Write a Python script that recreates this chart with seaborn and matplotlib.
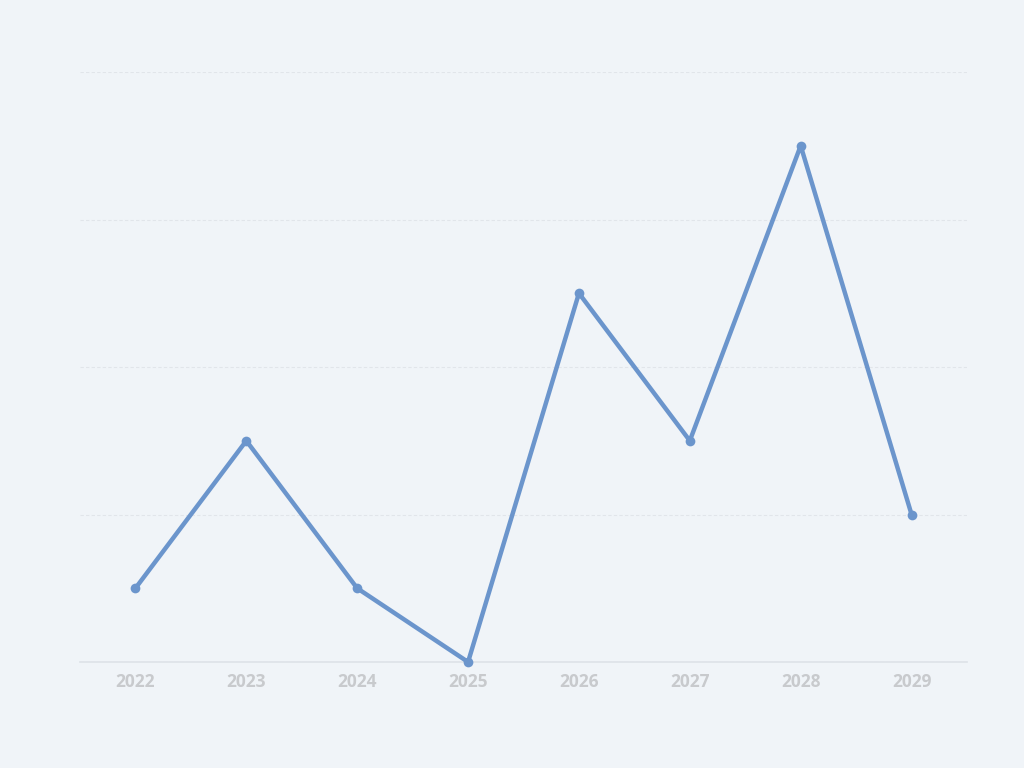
import matplotlib
matplotlib.use("Agg")
import matplotlib.pyplot as plt
import seaborn as sns
import pandas as pd

# ── Data ────────────────────────────────────────────────
years = ["2022", "2023", "2024", "2025", "2026", "2027", "2028", "2029"]
values = [10, 30, 10, 0, 50, 30, 70, 20]
y_ticks = [0, 20, 40, 60, 80]

BG = "#f0f4f8"
LINE = "#6b95cc"

sns.set_theme(style="white")
plt.rcParams["font.family"] = ["Open Sans", "DejaVu Sans"]

df = pd.DataFrame({"year": years, "value": values})

fig, ax = plt.subplots(figsize=(10.24, 7.68), dpi=100)
fig.patch.set_facecolor(BG)
ax.set_facecolor(BG)

sns.lineplot(data=df, x="year", y="value", ax=ax, color=LINE, linewidth=3.2,
             marker="o", markersize=7, markeredgewidth=0, sort=False,
             clip_on=False, zorder=5)

ax.set_xlim(-0.5, len(years) - 0.5)
ax.set_ylim(y_ticks[0], y_ticks[-1])
ax.set_yticks(y_ticks)
ax.set_yticklabels([])
ax.yaxis.grid(True, color="#e1e5ea", linestyle=(0, (3, 2)), linewidth=0.8)
ax.xaxis.grid(False)
ax.set_axisbelow(True)

for side in ["top", "right", "left"]:
    ax.spines[side].set_visible(False)
ax.spines["bottom"].set_color("#dde2e8")
ax.spines["bottom"].set_linewidth(1.2)
ax.spines["bottom"].set_zorder(1)

ax.tick_params(axis="both", length=0)
ax.tick_params(axis="x", pad=8, labelsize=12.5, labelcolor="#c8cacd")
for lbl in ax.get_xticklabels():
    lbl.set_fontweight("bold")
ax.set_xlabel("")
ax.set_ylabel("")

fig.subplots_adjust(left=80 / 1024, right=967 / 1024, top=1 - 72 / 768, bottom=1 - 662 / 768)
fig.savefig("out.png", dpi=100, facecolor=BG)
